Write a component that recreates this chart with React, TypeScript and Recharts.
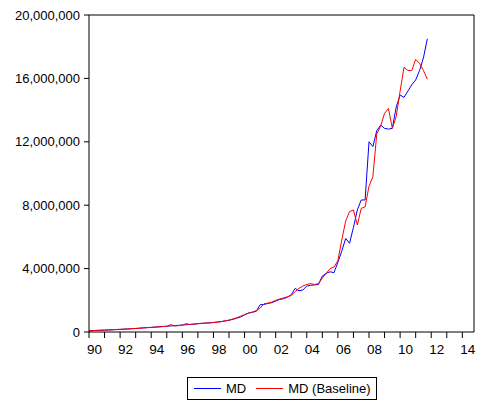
import { LineChart, Line, XAxis, YAxis, ReferenceLine } from "recharts";

// quarterly, 1990Q1 .. 2011Q4, in millions
const md = [
  0.08, 0.09, 0.1, 0.11,
  0.12, 0.13, 0.14, 0.15,
  0.16, 0.18, 0.19, 0.21,
  0.22, 0.24, 0.26, 0.28,
  0.29, 0.31, 0.33, 0.35,
  0.36, 0.38, 0.4, 0.42,
  0.44, 0.46, 0.48, 0.5,
  0.52, 0.54, 0.56, 0.58,
  0.6, 0.63, 0.66, 0.7,
  0.74, 0.8, 0.87, 0.95,
  1.08, 1.2, 1.25, 1.3,
  1.72, 1.74, 1.8, 1.85,
  1.95, 2.05, 2.1, 2.2,
  2.35, 2.75, 2.6, 2.65,
  2.9, 2.95, 2.97, 3.0,
  3.53, 3.7, 3.8, 3.74,
  4.4, 5.1, 5.9, 5.6,
  6.6, 7.7, 8.33, 8.33,
  12.0, 11.7, 12.7, 13.05,
  12.85, 12.8, 12.85, 14.2,
  14.95, 14.8, 15.2, 15.6,
  15.9, 16.5, 17.3, 18.5,
];

const mdBaseline = [
  0.07, 0.09, 0.1, 0.11,
  0.12, 0.13, 0.14, 0.16,
  0.17, 0.18, 0.19, 0.21,
  0.22, 0.24, 0.26, 0.27,
  0.29, 0.31, 0.32, 0.34,
  0.36, 0.47, 0.38, 0.4,
  0.43, 0.53, 0.47, 0.5,
  0.53, 0.55, 0.56, 0.57,
  0.6, 0.62, 0.65, 0.7,
  0.75, 0.82, 0.9, 1.0,
  1.1, 1.18, 1.25, 1.35,
  1.5, 1.78, 1.82, 1.88,
  2.0, 2.08, 2.15, 2.22,
  2.3, 2.55, 2.75, 2.9,
  3.0, 3.05, 3.0, 3.05,
  3.4, 3.7, 4.0, 4.1,
  4.5, 5.8, 7.0, 7.6,
  7.7, 6.75, 7.8, 7.9,
  9.2, 9.8, 12.5, 13.0,
  13.8, 14.1, 12.85, 13.6,
  15.2, 16.7, 16.5, 16.5,
  17.2, 16.95, 16.5, 15.95,
];

const yearTicks = [
  1990, 1991, 1992, 1993, 1994, 1995, 1996, 1997, 1998, 1999, 2000, 2001, 2002,
  2003, 2004, 2005, 2006, 2007, 2008, 2009, 2010, 2011, 2012, 2013, 2014,
];
const valueTicks = [0, 4000000, 8000000, 12000000, 16000000, 20000000];

const data = md.map((v, i) => ({
  t: 1990 + i / 4,
  md: v * 1000000,
  base: mdBaseline[i] * 1000000,
}));

const font = "Arial, 'Liberation Sans', sans-serif";

// year labels start at the tick, like EViews
function YearTick(props: any) {
  const { x, y, payload } = props;
  const yr = payload.value;
  if (yr % 2 !== 0) return null;
  return (
    <text x={x - 2} y={y + 13} textAnchor="start" fontSize={13.5} fontFamily={font} fill="#000">
      {String(yr % 100).padStart(2, "0")}
    </text>
  );
}

export default function App() {
  return (
    <div style={{ position: "absolute", left: 0, top: 0, width: 477, height: 404, background: "#fff", fontFamily: font }}>
      <LineChart
        width={477}
        height={404}
        data={data}
        margin={{ top: 15, right: 3, bottom: 42, left: 0 }}
      >
        <XAxis
          dataKey="t"
          type="number"
          domain={[1990, 2014.75]}
          ticks={yearTicks}
          interval={0}
          stroke="#000"
          tick={<YearTick />}
          tickSize={6}
          tickMargin={3}
          height={30}
          allowDataOverflow
        />
        <YAxis
          type="number"
          domain={[0, 20000000]}
          ticks={valueTicks}
          interval={0}
          tickFormatter={(v: number) => v.toLocaleString("en-US")}
          stroke="#000"
          tick={{ fill: "#000", fontSize: 13, fontFamily: font }}
          tickSize={5}
          tickMargin={4}
          width={89}
        />
        <ReferenceLine y={20000000} stroke="#000" />
        <ReferenceLine x={2014.75} stroke="#000" />
        <Line dataKey="md" stroke="#0000ff" strokeWidth={1} dot={false} isAnimationActive={false} />
        <Line dataKey="base" stroke="#ff0000" strokeWidth={1} dot={false} isAnimationActive={false} />
      </LineChart>
      <div
        style={{
          position: "absolute",
          left: 187,
          top: 377,
          width: 190,
          height: 23,
          border: "1px solid #000",
          display: "flex",
          alignItems: "center",
          fontSize: 13,
          color: "#000",
          boxSizing: "border-box",
        }}
      >
        <span style={{ display: "inline-block", width: 27, height: 1, background: "#0000ff", marginLeft: 6, marginRight: 5 }} />
        <span>MD</span>
        <span style={{ display: "inline-block", width: 27, height: 1, background: "#ff0000", marginLeft: 10, marginRight: 5 }} />
        <span>MD (Baseline)</span>
      </div>
    </div>
  );
}
